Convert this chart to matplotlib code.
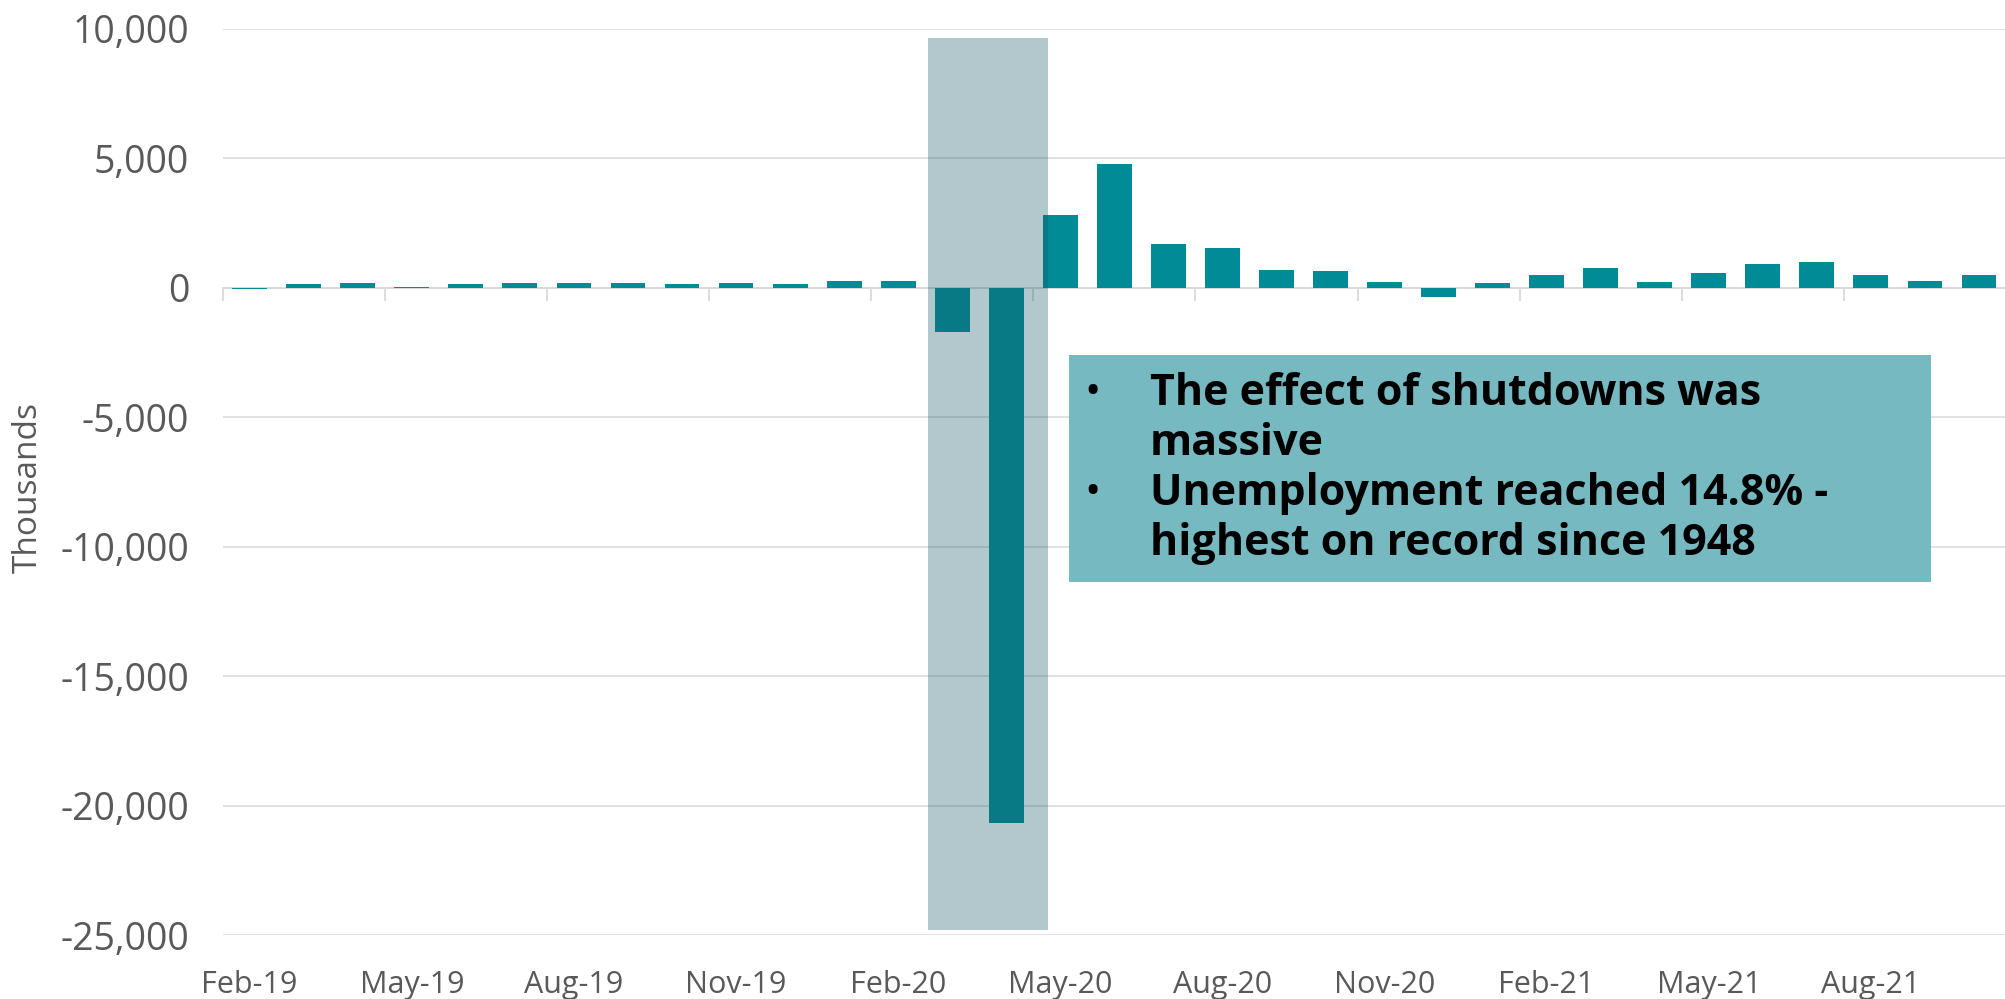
import matplotlib.pyplot as plt
from matplotlib.patches import Rectangle
import numpy as np

# monthly change in nonfarm payrolls, thousands
months = ["Feb-19", "Mar-19", "Apr-19", "May-19", "Jun-19", "Jul-19", "Aug-19", "Sep-19",
          "Oct-19", "Nov-19", "Dec-19", "Jan-20", "Feb-20", "Mar-20", "Apr-20", "May-20",
          "Jun-20", "Jul-20", "Aug-20", "Sep-20", "Oct-20", "Nov-20", "Dec-20", "Jan-21",
          "Feb-21", "Mar-21", "Apr-21", "May-21", "Jun-21", "Jul-21", "Aug-21", "Sep-21",
          "Oct-21"]
change = [-40, 130, 205, 50, 155, 170, 170, 205, 168, 205, 130, 283, 258, -1713, -20680,
          2800, 4800, 1690, 1550, 696, 657, 232, -335, 206, 515, 760, 245, 580, 940, 1005,
          515, 283, 503]
y_ticks = [10000, 5000, 0, -5000, -10000, -15000, -20000, -25000]
notes = ["The effect of shutdowns was", "massive",
         "Unemployment reached 14.8% -", "highest on record since 1948"]

BAR = "#008b96"
GRID = "#d9d9d9"
LABEL = "#595959"

plt.rcParams["font.family"] = ["Open Sans", "DejaVu Sans"]

fig = plt.figure(figsize=(20.06, 9.99), dpi=100)
ax = fig.add_axes([0.111, 0.064, 0.889, 0.907])

x = np.arange(len(months))
ax.bar(x, change, width=0.645, color=BAR, zorder=3)

ax.set_ylim(-25000, 10000)
ax.set_xlim(-0.5, 32.26)
ax.set_yticks(y_ticks)
ax.set_yticklabels([f"{v:,}" for v in y_ticks])
ax.tick_params(axis="y", length=0, labelsize=27, labelcolor=LABEL, pad=24)
ax.grid(axis="y", color=GRID, linewidth=1.1, zorder=0)
ax.set_axisbelow(True)
for s in ["left", "right", "top"]:
    ax.spines[s].set_visible(False)

# category axis sits on the zero line, ticks between every third month
ax.spines["bottom"].set_position(("data", 0))
ax.spines["bottom"].set_color(GRID)
ax.spines["bottom"].set_linewidth(1.3)
ax.set_xticks(np.arange(-0.5, len(months), 3))
ax.set_xticklabels([])
ax.tick_params(axis="x", direction="out", length=9, width=1.3, color=GRID)

# month labels along the bottom of the plot
sec = ax.secondary_xaxis("bottom")
sec.set_xticks(x[::3])
sec.set_xticklabels(months[::3])
sec.tick_params(length=0, labelsize=22, labelcolor=LABEL, pad=25)
sec.spines["bottom"].set_visible(False)

fig.text(0.014, 0.5125, "Thousands", rotation=90, fontsize=24, color=LABEL,
         ha="center", va="center")

# shutdown window
ax.add_patch(Rectangle((12.56, -24790), 2.22, 34440, facecolor="#185a66",
                       alpha=0.333, edgecolor="none", zorder=4))

# call-out box
fig.patches.append(Rectangle((0.533, 0.4174), 0.4297, 0.2272, transform=fig.transFigure,
                             facecolor="#76b9c1", edgecolor="none", zorder=5))
base = [0.5946, 0.5445, 0.4945, 0.4444]
for i, (line, yb) in enumerate(zip(notes, base)):
    if i in (0, 2):
        fig.text(0.5445, yb, "\u2022", fontsize=31, va="baseline", ha="center", zorder=6)
    fig.text(0.5733, yb, line, fontsize=31, fontweight="bold", color="black",
             va="baseline", ha="left", zorder=6)

fig.savefig("out.png", dpi=100)
